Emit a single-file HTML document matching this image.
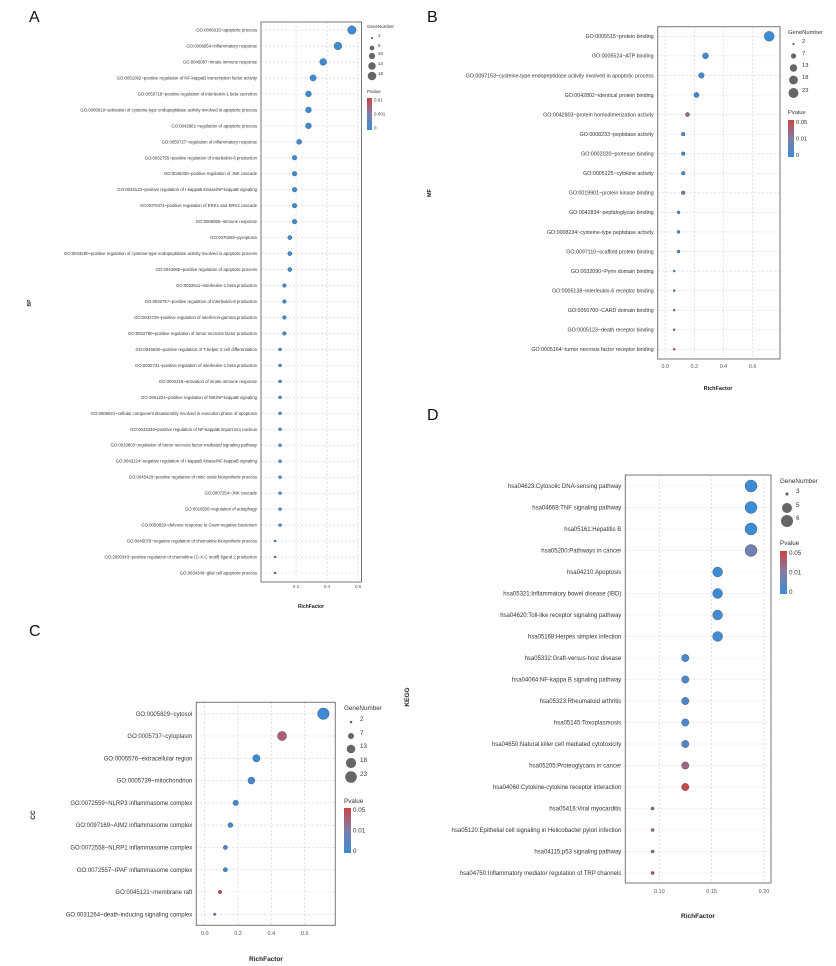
<!DOCTYPE html>
<html><head><meta charset="utf-8"><style>
html,body{margin:0;padding:0;background:#fff}
svg{display:block;font-family:"Liberation Sans",sans-serif}
</style></head><body>
<svg id="fig" width="836" height="966" viewBox="0 0 836 966" xmlns="http://www.w3.org/2000/svg">
<defs>
<linearGradient id="pg" x1="0" y1="1" x2="0" y2="0">
<stop offset="0" stop-color="#3d8bd4"/><stop offset="0.5" stop-color="#7e7ea8"/><stop offset="1" stop-color="#cd4443"/>
</linearGradient>
</defs>
</svg>
<script>
// ---- Panel A (BP) ----
const bpTerms = ["GO:0006915~apoptotic process","GO:0006954~inflammatory response","GO:0045087~innate immune response","GO:0051092~positive regulation of NF-kappaB transcription factor activity","GO:0050718~positive regulation of interleukin-1 beta secretion","GO:0006919~activation of cysteine-type endopeptidase activity involved in apoptotic process","GO:0042981~regulation of apoptotic process","GO:0050727~regulation of inflammatory response","GO:0032755~positive regulation of interleukin-6 production","GO:0046330~positive regulation of JNK cascade","GO:0043123~positive regulation of I-kappaB kinase/NF-kappaB signaling","GO:0070374~positive regulation of ERK1 and ERK2 cascade","GO:0006955~immune response","GO:0070269~pyroptosis","GO:0043280~positive regulation of cysteine-type endopeptidase activity involved in apoptotic process","GO:0043065~positive regulation of apoptotic process","GO:0032611~interleukin-1 beta production","GO:0032757~positive regulation of interleukin-8 production","GO:0032729~positive regulation of interferon-gamma production","GO:0032760~positive regulation of tumor necrosis factor production","GO:0045630~positive regulation of T-helper 2 cell differentiation","GO:0032731~positive regulation of interleukin-1 beta production","GO:0002218~activation of innate immune response","GO:1901224~positive regulation of NIK/NF-kappaB signaling","GO:0006921~cellular component disassembly involved in execution phase of apoptosis","GO:0042346~positive regulation of NF-kappaB import into nucleus","GO:0010803~regulation of tumor necrosis factor-mediated signaling pathway","GO:0043124~negative regulation of I-kappaB kinase/NF-kappaB signaling","GO:0045429~positive regulation of nitric oxide biosynthetic process","GO:0007254~JNK cascade","GO:0010506~regulation of autophagy","GO:0050829~defense response to Gram-negative bacterium","GO:0045079~negative regulation of chemokine biosynthetic process","GO:2000343~positive regulation of chemokine (C-X-C motif) ligand 2 production","GO:0034349~glial cell apoptotic process"];
const bpRich = [0.56,0.47,0.375,0.31,0.28,0.28,0.28,0.22,0.19,0.19,0.19,0.19,0.19,0.16,0.16,0.16,0.125,0.125,0.125,0.125,0.097,0.097,0.097,0.097,0.097,0.097,0.097,0.097,0.097,0.097,0.097,0.097,0.065,0.065,0.065];
const bpGenes = [18,15,12,10,9,9,9,7,6,6,6,6,6,5,5,5,4,4,4,4,3,3,3,3,3,3,3,3,3,3,3,3,2,2,2];
const bpP = [0,0,0,0,0,0,0,0,0,0,0,0,0,0,0,0,0,0,0,0.0001,0.0001,0.0001,0.0001,0.0001,0.0001,0.0001,0.0001,0.0001,0.0001,0.0001,0.0001,0.0001,0.0002,0.0002,0.0002];
const bpTicks = [0.2,0.4,0.6];
const bpSizeLegend = [2,6,10,14,18];
const bpPLegend = ["0.01","0.001","0"];
// ---- Panel B (MF) ----
const mfTerms = ["GO:0005515~protein binding","GO:0005524~ATP binding","GO:0097153~cysteine-type endopeptidase activity involved in apoptotic process","GO:0042802~identical protein binding","GO:0042803~protein homodimerization activity","GO:0008233~peptidase activity","GO:0002020~protease binding","GO:0005125~cytokine activity","GO:0019901~protein kinase binding","GO:0042834~peptidoglycan binding","GO:0008234~cysteine-type peptidase activity","GO:0097110~scaffold protein binding","GO:0032090~Pyrin domain binding","GO:0005138~interleukin-6 receptor binding","GO:0050700~CARD domain binding","GO:0005123~death receptor binding","GO:0005164~tumor necrosis factor receptor binding"];
const mfRich = [0.714,0.277,0.249,0.215,0.153,0.124,0.124,0.124,0.124,0.092,0.092,0.092,0.062,0.062,0.062,0.062,0.062];
const mfGenes = [23,9,8,7,5,4,4,4,4,3,3,3,2,2,2,2,2];
const mfP = [0,0,0,0,0.022,0.001,0.001,0.001,0.016,0.002,0.002,0.002,0.004,0.004,0.006,0.03,0.045];
const mfTicks = [0.0,0.2,0.4,0.6];
const mfSizeLegend = [2,7,13,18,23];
const mfPLegend = ["0.05","0.01","0"];
// ---- Panel C (CC) ----
const ccTerms = ["GO:0005829~cytosol","GO:0005737~cytoplasm","GO:0005576~extracellular region","GO:0005739~mitochondrion","GO:0072559~NLRP3 inflammasome complex","GO:0097169~AIM2 inflammasome complex","GO:0072558~NLRP1 inflammasome complex","GO:0072557~IPAF inflammasome complex","GO:0045121~membrane raft","GO:0031264~death-inducing signaling complex"];
const ccRich = [0.712,0.464,0.31,0.28,0.186,0.154,0.124,0.124,0.092,0.06];
const ccGenes = [23,15,10,9,6,5,4,4,3,2];
const ccP = [0,0.03,0,0.001,0.001,0.001,0.001,0.001,0.045,0.008];
const ccTicks = [0.0,0.2,0.4,0.6];
const ccSizeLegend = [2,7,13,18,23];
const ccPLegend = ["0.05","0.01","0"];
// ---- Panel D (KEGG) ----
const kgTerms = ["hsa04623:Cytosolic DNA-sensing pathway","hsa04668:TNF signaling pathway","hsa05161:Hepatitis B","hsa05200:Pathways in cancer","hsa04210:Apoptosis","hsa05321:Inflammatory bowel disease (IBD)","hsa04620:Toll-like receptor signaling pathway","hsa05168:Herpes simplex infection","hsa05332:Graft-versus-host disease","hsa04064:NF-kappa B signaling pathway","hsa05323:Rheumatoid arthritis","hsa05145:Toxoplasmosis","hsa04650:Natural killer cell mediated cytotoxicity","hsa05205:Proteoglycans in cancer","hsa04060:Cytokine-cytokine receptor interaction","hsa05416:Viral myocarditis","hsa05120:Epithelial cell signaling in Helicobacter pylori infection","hsa04115:p53 signaling pathway","hsa04750:Inflammatory mediator regulation of TRP channels"];
const kgRich = [0.1876,0.1876,0.1876,0.1876,0.1557,0.1557,0.1557,0.1557,0.1248,0.1248,0.1248,0.1248,0.1248,0.1248,0.1248,0.0936,0.0936,0.0936,0.0936];
const kgGenes = [6,6,6,6,5,5,5,5,4,4,4,4,4,4,4,3,3,3,3];
const kgP = [0,0,0,0.008,0,0,0.001,0.001,0.002,0.002,0.002,0.002,0.003,0.025,0.045,0.02,0.02,0.02,0.04];
const kgTicks = [0.10,0.15,0.20];
const kgSizeLegend = [3,5,6];
const kgPLegend = ["0.05","0.01","0"];

const NS="http://www.w3.org/2000/svg";
const svg=document.getElementById('fig');
function mk(tag,attrs,parent){const e=document.createElementNS(NS,tag);for(const k in attrs)e.setAttribute(k,attrs[k]);(parent||svg).appendChild(e);return e;}
function lerp(a,b,t){return a+(b-a)*t;}
function pColor(p,pmax,pmid){
  let t = p<=pmid ? 0.5*p/pmid : 0.5+0.5*(p-pmid)/(pmax-pmid);
  t=Math.max(0,Math.min(1,t));
  const c0=[61,139,212],c1=[126,126,168],c2=[205,68,67];
  let a,b,u; if(t<0.5){a=c0;b=c1;u=t*2;}else{a=c1;b=c2;u=(t-0.5)*2;}
  return 'rgb('+a.map((v,i)=>Math.round(lerp(v,b[i],u))).join(',')+')';
}
function panel(c){
  const g=mk('g',{});
  
  
  const letter=mk('text',{x:c.letter[0],y:c.letter[1],'font-size':16,fill:'#111'},g);letter.textContent=c.letterText;
  
  const n=c.terms.length;
  const xs=v=>c.x0+(v-c.d0)*(c.x1-c.x0)/(c.d1-c.d0);
  const ys=i=>c.yFirst+i*(c.yLast-c.yFirst)/(n-1);
  const gr=mk('g',{stroke:'#d0d0d0','stroke-width':0.6,'stroke-dasharray':'2,2'},g);
  
  c.ticks.forEach(t=>{mk('line',{x1:xs(t),x2:xs(t),y1:c.top,y2:c.bottom},gr);});
  for(let i=0;i<n;i++){mk('line',{x1:c.x0,x2:c.x1,y1:ys(i),y2:ys(i)},gr);}
  const box=mk('rect',{x:c.x0,y:c.top,width:c.x1-c.x0,height:c.bottom-c.top,fill:'none',stroke:'#777','stroke-width':1},g);
  
  c.terms.forEach((t,i)=>{
    const tx=mk('text',{x:c.x0-4,y:ys(i)+c.fs*0.35,'font-size':c.fs,'text-anchor':'end',fill:'#333'},g);tx.textContent=t;
    
  });
  c.ticks.forEach(t=>{
    const tx=mk('text',{x:xs(t),y:c.tickY,'font-size':c.tfs,'text-anchor':'middle',fill:'#555'},g);tx.textContent=t.toFixed(c.dec);
    
  });
  const rad=v=>Math.sqrt(c.rmin*c.rmin+(c.rmax*c.rmax-c.rmin*c.rmin)*(v-c.gmin)/(c.gmax-c.gmin));
  c.rich.forEach((v,i)=>{
    const ci=mk('circle',{cx:xs(v),cy:ys(i),r:rad(c.genes[i]),fill:pColor(c.p[i],c.pmax,c.pmid),stroke:'#333','stroke-width':0.3},g);
    
  });
  const xl=mk('text',{x:c.xlab[0],y:c.xlab[1],'font-size':c.lfs,'font-weight':'bold','text-anchor':'middle',fill:'#222'},g);xl.textContent='RichFactor';
  
  const yl=mk('text',{x:c.ylab[0],y:c.ylab[1],'font-size':c.lfs,'font-weight':'bold','text-anchor':'middle',fill:'#222',transform:'rotate(-90 '+c.ylab[0]+' '+c.ylab[1]+')'},g);yl.textContent=c.ytitle;
  
  const L=c.leg;
  const lg=mk('g',{},g);
  const gt=mk('text',{x:L.x,y:L.gy,'font-size':L.fs,fill:'#333'},lg);gt.textContent='GeneNumber';
  
  c.sizeLeg.forEach((v,i)=>{
    const y=L.sy[i];
    const ci=mk('circle',{cx:L.cx,cy:y,r:rad(v),fill:'#666'},lg);
    
    const tx=mk('text',{x:L.tx,y:y-1,'font-size':L.fs,fill:'#333'},lg);tx.textContent=v;
    
  });
  const pt=mk('text',{x:L.x,y:L.py,'font-size':L.fs,fill:'#333'},lg);pt.textContent='Pvalue';
  
  const cb=mk('rect',{x:L.x,y:L.cb0,width:L.cbw,height:L.cb1-L.cb0,fill:'url(#pg)'},lg);
  
  c.pLeg.forEach((s,i)=>{
    const y=L.cb0+2+i*(L.cb1-L.cb0-4)/2;
    const tx=mk('text',{x:L.x+L.cbw+2,y:y+L.fs*0.35,'font-size':L.fs,fill:'#333'},lg);tx.textContent=s;
    
  });
}
panel({name:'bp',letterText:'A',letter:[29,22],ytitle:'BP',terms:bpTerms,rich:bpRich,genes:bpGenes,p:bpP,ticks:bpTicks,sizeLeg:bpSizeLegend,pLeg:bpPLegend,
  x0:261,x1:361.5,d0:-0.026,d1:0.622,top:22,bottom:582,yFirst:30,yLast:573,fs:4.3,tfs:4.5,dec:1,tickY:588,lfs:5,xlab:[311,608],ylab:[31,303],
  rmin:1.1,rmax:4.3,gmin:2,gmax:18,pmax:0.01,pmid:0.001,
  leg:{x:367,gy:28,fs:4.5,sy:[38,48,56,66,76],cx:372,tx:378,py:93,cb0:98,cb1:130,cbw:5}});
panel({name:'mf',letterText:'B',letter:[427,22],ytitle:'MF',terms:mfTerms,rich:mfRich,genes:mfGenes,p:mfP,ticks:mfTicks,sizeLeg:mfSizeLegend,pLeg:mfPLegend,
  x0:657.7,x1:780,d0:-0.051,d1:0.788,top:26.7,bottom:359,yFirst:36.3,yLast:349.3,fs:5.3,tfs:5.3,dec:1,tickY:368,lfs:5.5,xlab:[718,390],ylab:[431,193],
  rmin:1.1,rmax:5,gmin:2,gmax:23,pmax:0.05,pmid:0.01,
  leg:{x:788,gy:34,fs:5.8,sy:[44,56,68,80,93],cx:793.5,tx:802,py:114,cb0:120,cb1:157,cbw:6}});
panel({name:'cc',letterText:'C',letter:[29,636],ytitle:'CC',terms:ccTerms,rich:ccRich,genes:ccGenes,p:ccP,ticks:ccTicks,sizeLeg:ccSizeLegend,pLeg:ccPLegend,
  x0:196.3,x1:335.3,d0:-0.0504,d1:0.7836,top:702.3,bottom:925.3,yFirst:713.7,yLast:914.3,fs:6,tfs:5.5,dec:1,tickY:935,lfs:6.5,xlab:[266,961],ylab:[35,815],
  rmin:1.3,rmax:5.8,gmin:2,gmax:23,pmax:0.05,pmid:0.01,
  leg:{x:344,gy:710,fs:6.3,sy:[722,736,749,763,777],cx:351,tx:360,py:803,cb0:808,cb1:853,cbw:7}});
panel({name:'kegg',letterText:'D',letter:[427,420],ytitle:'KEGG',terms:kgTerms,rich:kgRich,genes:kgGenes,p:kgP,ticks:kgTicks,sizeLeg:kgSizeLegend,pLeg:kgPLegend,
  x0:625.3,x1:771,d0:0.0675,d1:0.2067,top:475,bottom:883,yFirst:486,yLast:873,fs:6,tfs:5.5,dec:2,tickY:893,lfs:6.5,xlab:[698,918],ylab:[409,697],
  rmin:1.6,rmax:6,gmin:3,gmax:6,pmax:0.05,pmid:0.01,
  leg:{x:780,gy:483,fs:6.3,sy:[494,508,521],cx:787,tx:796,py:545,cb0:551,cb1:594,cbw:7}});
</script>
</body></html>
